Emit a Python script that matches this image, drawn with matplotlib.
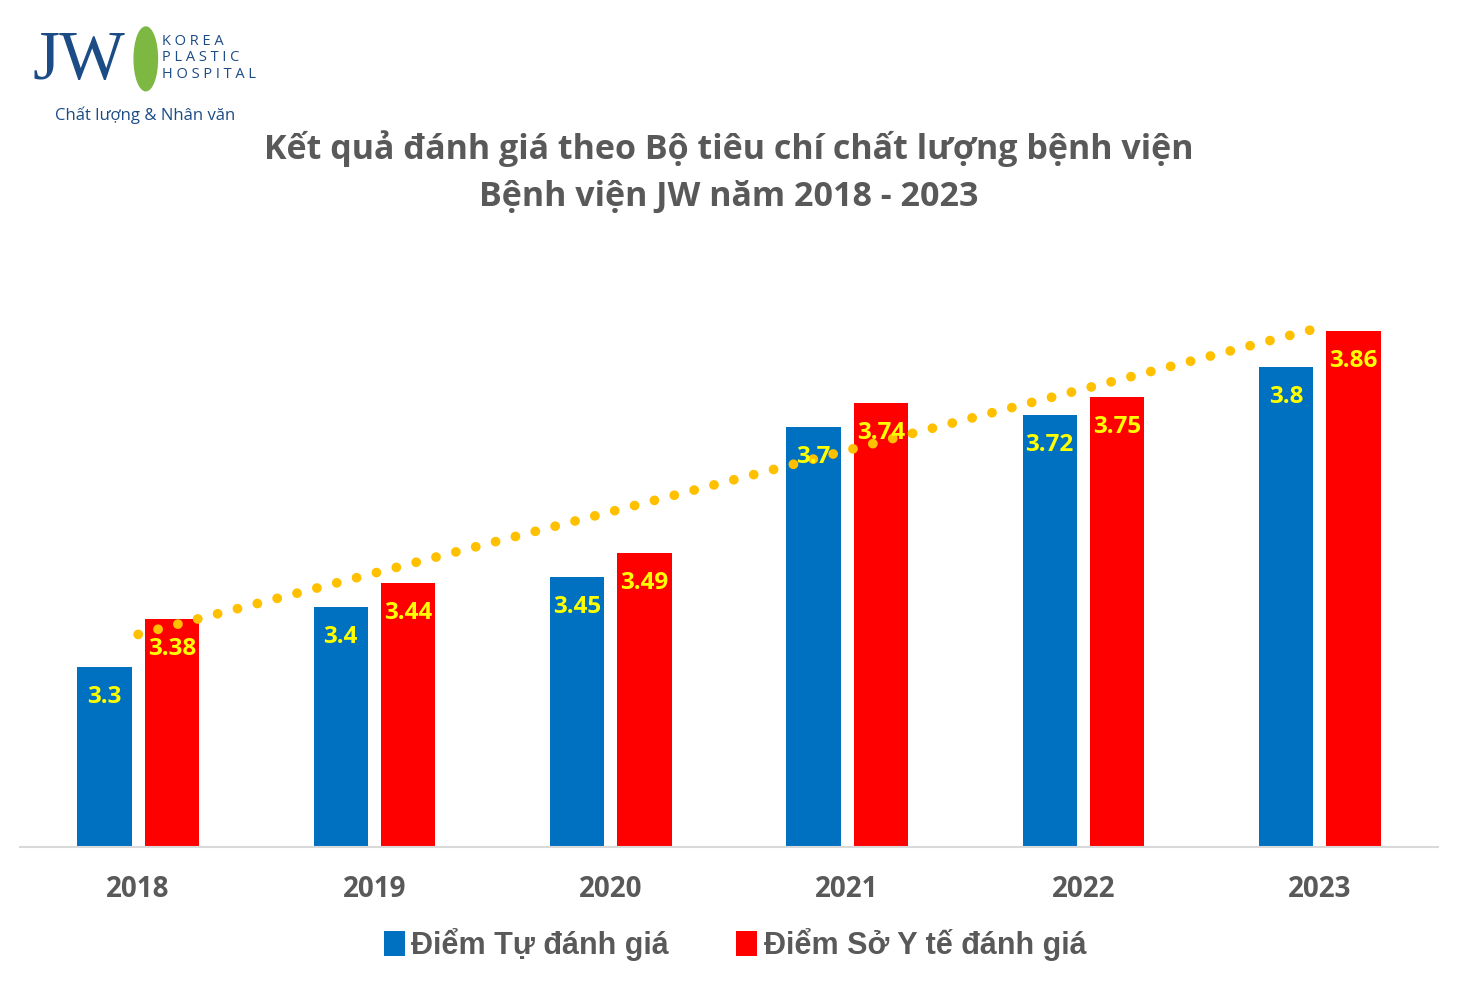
import numpy as np
import matplotlib
matplotlib.use('Agg')
import matplotlib.pyplot as plt
from matplotlib.patches import Ellipse

years = ['2018', '2019', '2020', '2021', '2022', '2023']
tu_danh_gia = [3.3, 3.4, 3.45, 3.7, 3.72, 3.8]
so_y_te = [3.38, 3.44, 3.49, 3.74, 3.75, 3.86]

blue = '#0070C0'
red = '#FF0000'
gray = '#595959'
navy = '#1C4C85'

plt.rcParams['font.family'] = ['Open Sans', 'Lato', 'DejaVu Sans']

fig = plt.figure(figsize=(14.58, 9.81), dpi=100)
ax = fig.add_axes([0.0137, 0.1366, 0.9726, 0.581])

x = np.arange(len(years))
w = 0.23
off = 0.143
b1 = ax.bar(x - off, tu_danh_gia, w, color=blue, label='Điểm Tự đánh giá')
b2 = ax.bar(x + off, so_y_te, w, color=red, label='Điểm Sở Y tế đánh giá')

# linear trend of the red series
k, c = np.polyfit(x, so_y_te, 1)
ax.plot(x, k * x + c, linestyle=(0, (0.01, 2.1)), color='#FFC000', lw=7,
        solid_capstyle='round', dash_capstyle='round', zorder=3)

for xs, vals in ((x - off, tu_danh_gia), (x + off, so_y_te)):
    for xi, v in zip(xs, vals):
        ax.annotate(f'{v:g}', (xi, v), xytext=(0, -30), textcoords='offset pixels',
                    ha='center', va='center', color='#FFFF00', fontsize=17.5,
                    fontweight='bold', zorder=4)

ax.set_xlim(-0.5, 5.5)
ax.set_ylim(3.0, 3.95)
ax.set_xticks(x)
ax.set_xticklabels(years, fontsize=20, fontweight='bold', color=gray)
ax.tick_params(axis='x', length=0, pad=20)
ax.set_yticks([])
for s in ('top', 'right', 'left'):
    ax.spines[s].set_visible(False)
ax.spines['bottom'].set_color('#D9D9D9')
ax.spines['bottom'].set_linewidth(1.5)

fig.text(0.5, 0.849, 'Kết quả đánh giá theo Bộ tiêu chí chất lượng bệnh viện',
         ha='center', va='center', fontsize=24.5, fontweight='bold', color=gray)
fig.text(0.5, 0.799, 'Bệnh viện JW năm 2018 - 2023',
         ha='center', va='center', fontsize=24.5, fontweight='bold', color=gray)

leg = fig.legend(handles=[b1, b2], loc='center', bbox_to_anchor=(0.504, 0.037),
                 ncol=2, frameon=False, handlelength=0.7, handleheight=0.9,
                 handletextpad=0.2, columnspacing=2.2,
                 prop={'family': 'Liberation Sans', 'weight': 'bold', 'size': 22})
for t in leg.get_texts():
    t.set_color(gray)

# logo
fig.text(0.022, 0.937, 'JW', fontsize=50, family='Liberation Serif', color=navy,
         ha='left', va='center')
fig.patches.append(Ellipse((0.1, 0.94), 0.016, 0.065, transform=fig.transFigure,
                           color='#7DB843', figure=fig))
fig.text(0.111, 0.941, 'K O R E A\nP L A S T I C\nH O S P I T A L', fontsize=10.5,
         color=navy, ha='left', va='center', linespacing=1.15)
fig.text(0.038, 0.883, 'Chất lượng & Nhân văn', fontsize=12, color=navy,
         ha='left', va='center')

fig.savefig('out.png', dpi=100)
